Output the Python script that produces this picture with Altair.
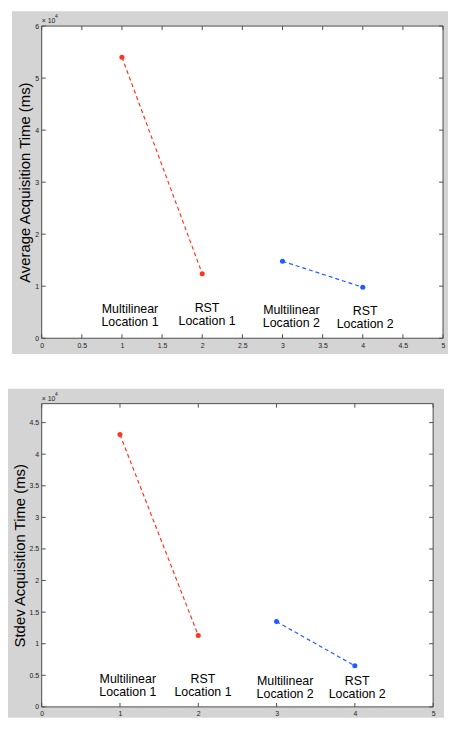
import altair as alt
import pandas as pd

# ---- data ----
positions = [1, 2, 3, 4]
series = ["Location 1", "Location 1", "Location 2", "Location 2"]
avg_time = [54000, 12400, 14800, 9800]
stdev_time = [43100, 11300, 13500, 6500]

point_labels = ["Multilinear\nLocation 1", "RST\nLocation 1",
                "Multilinear\nLocation 2", "RST\nLocation 2"]
label_x = [1.10, 2.06, 3.11, 4.03]
avg_label_y = [5530, 5720, 5340, 5150]
stdev_label_y = [4330, 4380, 4120, 4020]

avg_x_ticks = [0, 0.5, 1, 1.5, 2, 2.5, 3, 3.5, 4, 4.5, 5]
stdev_x_ticks = [0, 1, 2, 3, 4, 5]
avg_ticks = [0, 10000, 20000, 30000, 40000, 50000, 60000]
stdev_ticks = [0, 5000, 10000, 15000, 20000, 25000, 30000, 35000, 40000, 45000]

FONT = "Liberation Sans"
GRAY = "#d4d4d4"
AXIS = "#4d4d4d"
RED = "#ff3520"
BLUE = "#1f5cff"
TICK = 4


def panel(values, label_y, xticks, yticks, ymax, title, W, H, gray_box, title_x):
    df = pd.DataFrame({"x": positions, "y": values, "series": series})
    lab = pd.DataFrame({"x": label_x, "y": label_y, "text": point_labels})
    xt = pd.DataFrame({"x": xticks})
    yt = pd.DataFrame({"y": yticks})
    one = pd.DataFrame({"k": [0]})
    xs = alt.Scale(domain=[0, 5], nice=False, zero=False)
    ys = alt.Scale(domain=[0, ymax], nice=False, zero=False)
    xaxis = alt.Axis(
        values=xticks, title=None, domain=False, ticks=False, grid=False, format="~g",
        labelFontSize=7, labelColor="#222", labelFont=FONT, labelPadding=3,
        labelFlush=False, labelOverlap=False, zindex=1)
    yaxis = alt.Axis(
        values=yticks, title=title, domain=False, ticks=False, grid=False,
        labelExpr="datum.value / 10000",
        labelFontSize=7, labelColor="#222", labelFont=FONT, labelPadding=3,
        labelOverlap=False,
        titleFont=FONT, titleFontSize=15, titleFontWeight="normal", titleColor="black",
        titleX=title_x, titleY=H / 2, titleBaseline="middle", zindex=1)

    def X():
        return alt.X("x:Q", scale=xs, axis=xaxis)

    def Y():
        return alt.Y("y:Q", scale=ys, axis=yaxis)

    color = alt.Color("series:N", legend=None,
                      scale=alt.Scale(domain=["Location 1", "Location 2"], range=[RED, BLUE]))
    gx, gx2, gy, gy2 = gray_box

    gray = alt.Chart(one).mark_rect(color=GRAY, clip=False).encode(
        x=alt.value(gx), x2=alt.value(gx2), y=alt.value(gy), y2=alt.value(gy2))
    box = alt.Chart(one).mark_rect(fill="white", stroke=AXIS, strokeWidth=1).encode(
        x=alt.value(0), x2=alt.value(W), y=alt.value(0), y2=alt.value(H))

    lines = alt.Chart(df).mark_line(strokeDash=[4, 3], strokeWidth=1.2).encode(
        x=X(), y=Y(), color=color, detail="series:N")
    pts = alt.Chart(df).mark_circle(size=26, opacity=1).encode(x=X(), y=Y(), color=color)
    texts = alt.Chart(lab).mark_text(font=FONT, fontSize=12.5, lineBreak="\n", align="center",
                                     baseline="middle", color="black", lineHeight=13).encode(
        x=X(), y=Y(), text="text:N")

    xb = alt.Chart(xt).mark_rule(color=AXIS, strokeWidth=1).encode(
        x=X(), y=alt.value(H), y2=alt.value(H - TICK))
    xtop = alt.Chart(xt).mark_rule(color=AXIS, strokeWidth=1).encode(
        x=X(), y=alt.value(0), y2=alt.value(TICK))
    yl = alt.Chart(yt).mark_rule(color=AXIS, strokeWidth=1).encode(
        y=Y(), x=alt.value(0), x2=alt.value(TICK))
    yr = alt.Chart(yt).mark_rule(color=AXIS, strokeWidth=1).encode(
        y=Y(), x=alt.value(W - TICK), x2=alt.value(W))

    exp_base = alt.Chart(one).mark_text(font=FONT, fontSize=7, align="left", baseline="middle",
                                        color="#222", clip=False).encode(
        x=alt.value(0), y=alt.value(-5), text=alt.value("\u00d7 10"))
    exp_sup = alt.Chart(one).mark_text(font=FONT, fontSize=5, align="left", baseline="middle",
                                       color="#222", clip=False).encode(
        x=alt.value(13.5), y=alt.value(-10), text=alt.value("4"))

    return alt.layer(gray, box, lines, pts, texts, xb, xtop, yl, yr, exp_base, exp_sup).properties(
        width=W, height=H)


top = panel(avg_time, avg_label_y, avg_x_ticks, avg_ticks, 60000, "Average Acquisition Time (ms)",
            405, 315, (-30, 410, -15, 331), -17.5)
bottom = panel(stdev_time, stdev_label_y, stdev_x_ticks, stdev_ticks, 48000,
               "Stdev Acquisition Time (ms)",
               395, 306, (-34, 406, -15, 317), -22)

chart = alt.concat(top, bottom, columns=1, align="none", spacing=35, bounds="full").properties(
    padding=0, background="white"
).configure_view(strokeWidth=0)

chart.save("out.html", embed_options={"renderer": "svg", "actions": False})
